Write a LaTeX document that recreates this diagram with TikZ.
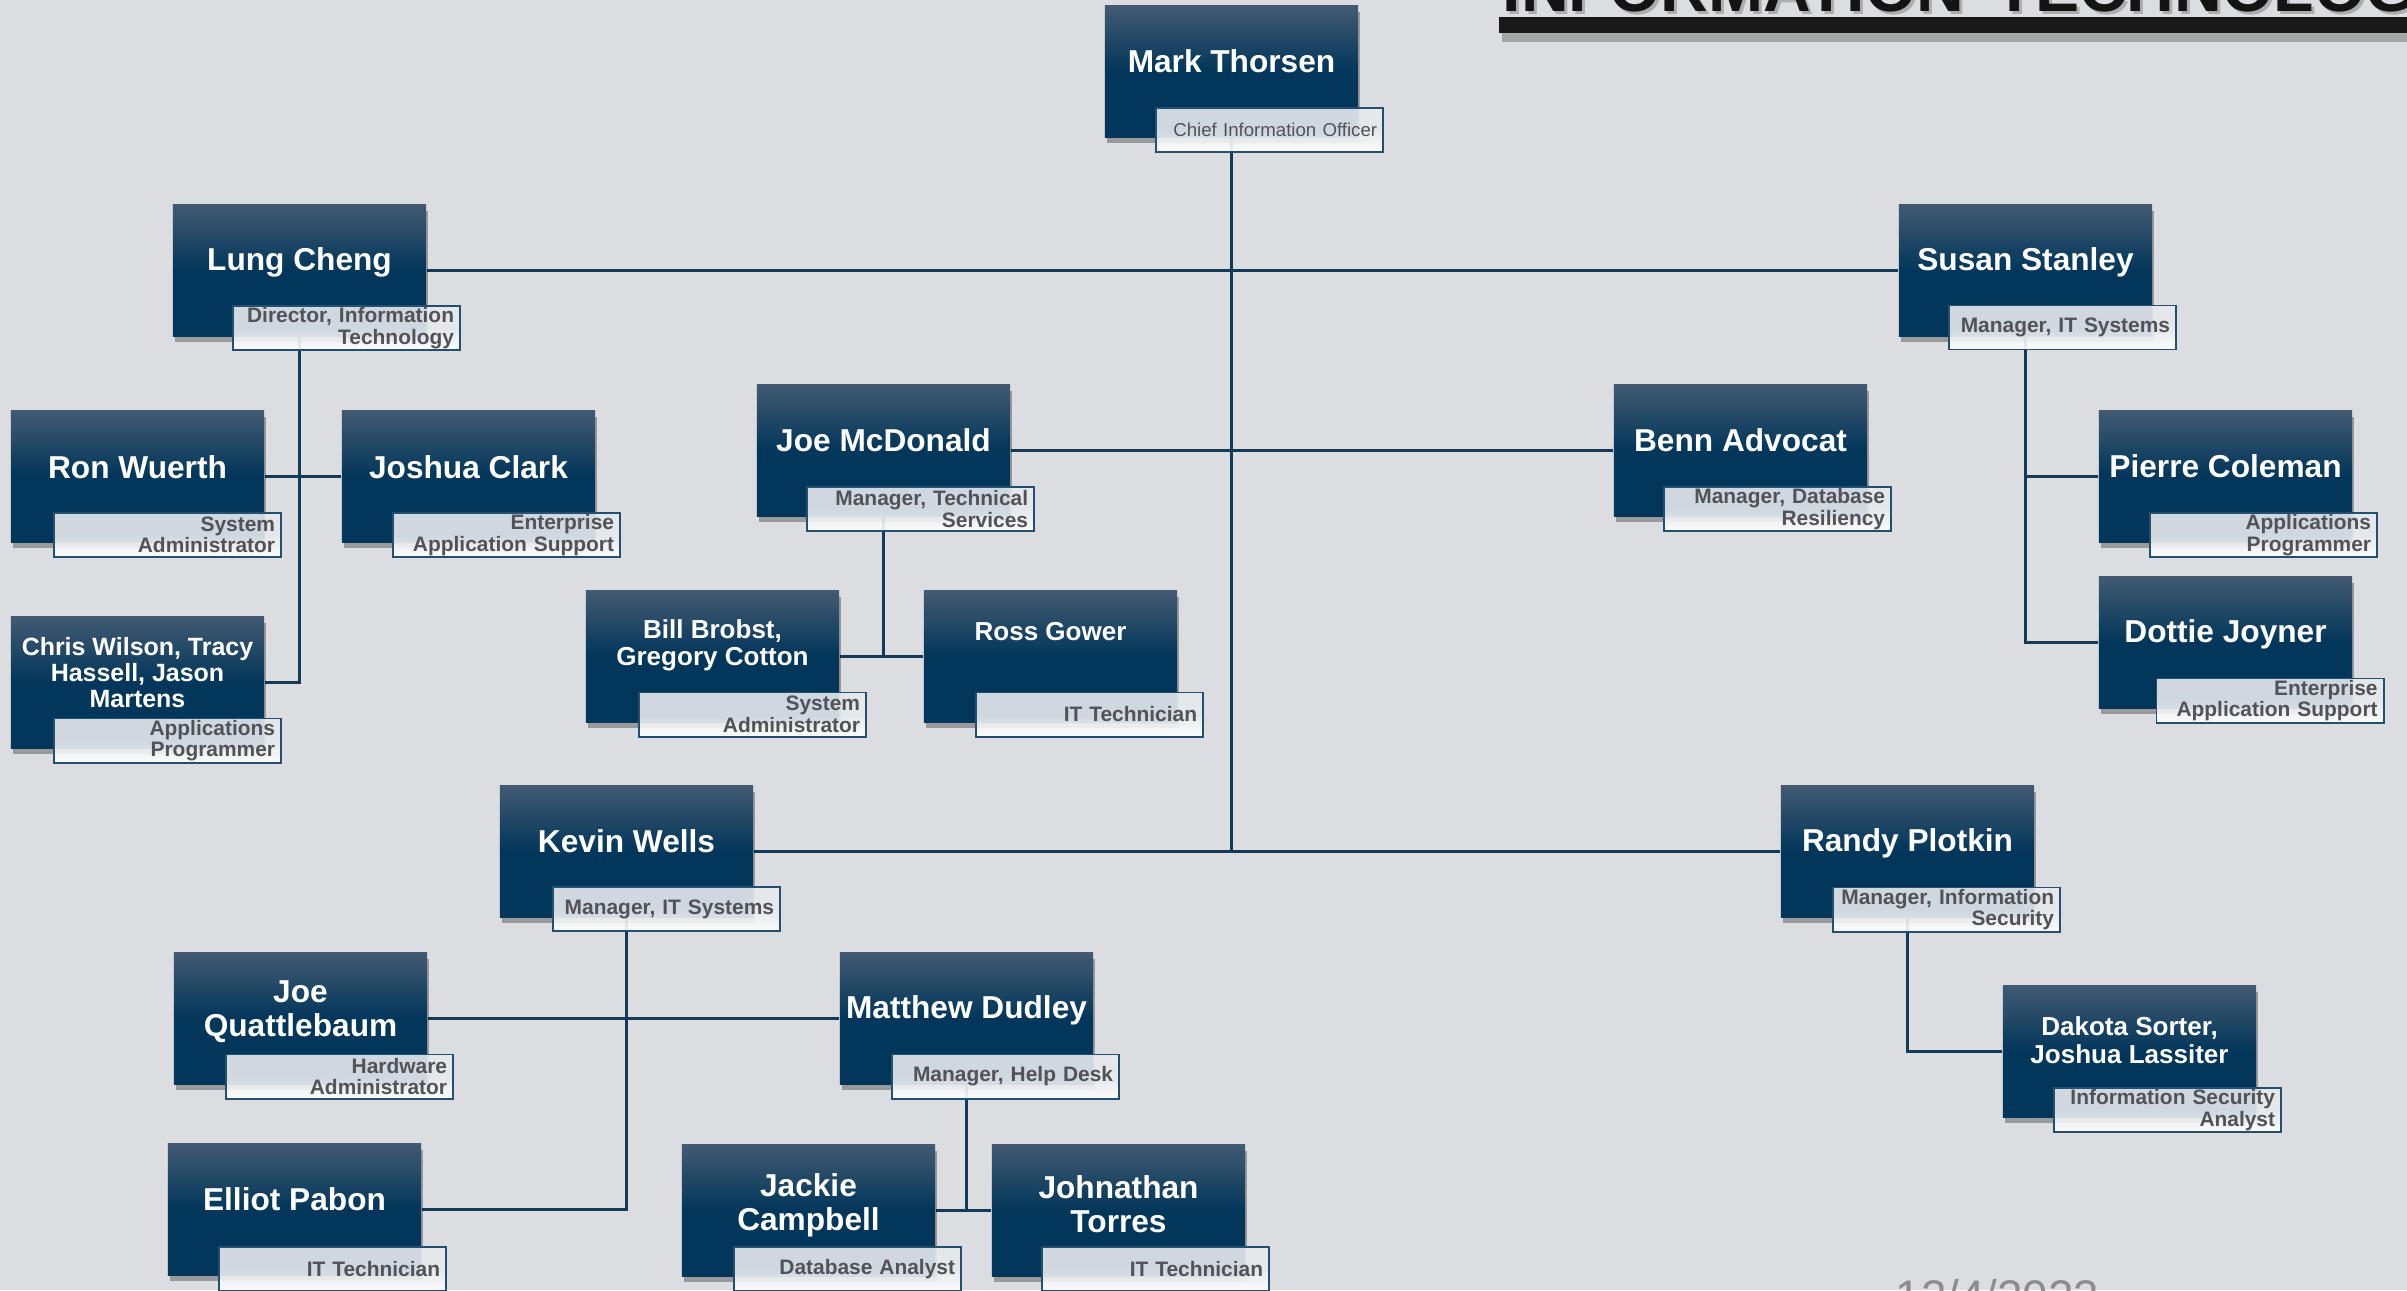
\documentclass[tikz,border=0pt]{standalone}
\usepackage{fontspec}
\setmainfont{Liberation Sans}
\usetikzlibrary{shadows,calc}
\definecolor{bgc}{RGB}{220,221,224}
\definecolor{bxT}{RGB}{66,90,114}
\definecolor{bxB}{RGB}{2,54,90}
\definecolor{lnc}{RGB}{18,58,88}
\definecolor{lbA}{RGB}{230,234,237}
\definecolor{lbD}{RGB}{35,80,112}
\definecolor{lbT}{RGB}{82,82,88}
\definecolor{datec}{RGB}{140,140,140}
\pgfdeclarelayer{bg}
\pgfsetlayers{bg,main}
\begin{document}
\begin{tikzpicture}[x={(0.01cm,0)}, y={(0,-0.01cm)},
  pbox/.style={rectangle, minimum width=2.53cm, minimum height=1.31cm, inner sep=0pt,
    top color=bxT, bottom color=bxB, middle color=bxB,
    drop shadow={shadow xshift=0.6pt, shadow yshift=-1.6pt, opacity=0.3, fill=black}},
  nm/.style={text=white, font=\bfseries\fontsize{9}{9.7}\selectfont, align=center, inner sep=0pt},
  nms/.style={text=white, font=\bfseries\fontsize{7.4}{7.9}\selectfont, align=center, inner sep=0pt},
  nmx/.style={text=white, font=\bfseries\fontsize{7.1}{7.4}\selectfont, align=center, inner sep=0pt},
  lb/.style={rectangle, minimum width=2.27cm, minimum height=0.44cm, text width=2.15cm,
    inner xsep=0.06cm, inner ysep=0pt, align=right, draw=lbD, line width=0.55pt,
    top color=lbA, bottom color=white, middle color=lbA, fill opacity=0.9, text opacity=1,
    text=lbT, font=\bfseries\fontsize{5.95}{6.1}\selectfont},
  lbr/.style={lb, font=\fontsize{5.3}{5.6}\selectfont},
  conn/.style={draw=lnc, line width=0.03cm},
  ttl/.style={anchor=base west, inner sep=0pt, font=\bfseries\fontsize{18.8}{19}\selectfont}
]
\begin{pgfonlayer}{bg}
\fill[bgc] (0,0) rectangle (2407,1290);
\end{pgfonlayer}
\useasboundingbox (0,0) rectangle (2407,1290);
\clip (0,0) rectangle (2407,1290);

% title (cut off at the top) and date (cut off at the bottom)
\fill[black, opacity=0.25] (1502,22) rectangle (2407,42);
\fill[black!90] (1499,17) rectangle (2407,33);
\node[ttl, text=black!45, opacity=0.6] (titleS) at (1505,14) {INFORMATION\hspace{0.12cm} TECHNOLOGY};
\node[ttl, text=black!92] (title) at (1502,11) {INFORMATION\hspace{0.12cm} TECHNOLOGY};
\node[anchor=base west, inner sep=0pt, text=datec, font=\fontsize{13}{13}\selectfont] (date) at (1895,1312) {12/4/2023};

% ---------- boxes ----------
\node[pbox] (mark) at (1231.5,71.5) {};
\node[nm] (markN) at ($(mark.north)+(0,56)$) {Mark Thorsen};
\node[lbr] (markL) at (1269.5,130) {Chief Information Officer};

\node[pbox] (lung) at (299.5,270.5) {};
\node[nm] (lungN) at ($(lung.north)+(0,58)$) {Lung Cheng};
\node[lb] (lungL) at (346.5,328) {Director, Information\\Technology};

\node[pbox] (susan) at (2025.5,270.5) {};
\node[nm] (susanN) at ($(susan.north)+(0,58)$) {Susan Stanley};
\node[lb] (susanL) at (2062.5,327.5) {Manager, IT Systems};

\node[pbox] (ron) at (137.5,476.5) {};
\node[nm] (ronN) at ($(ron.north)+(0,57)$) {Ron Wuerth};
\node[lb] (ronL) at (167.5,535) {System\\Administrator};

\node[pbox] (jclark) at (468.5,476.5) {};
\node[nm] (jclarkN) at ($(jclark.north)+(0,57)$) {Joshua Clark};
\node[lb] (jclarkL) at (506.5,535) {Enterprise\\Application Support};

\node[pbox] (chris) at (137.5,682.5) {};
\node[nmx] (chrisN) at ($(chris.north)+(0,56)$) {Chris Wilson, Tracy\\Hassell, Jason\\Martens};
\node[lb] (chrisL) at (167.5,740.5) {Applications\\Programmer};

\node[pbox] (mcd) at (883.5,450.5) {};
\node[nm] (mcdN) at ($(mcd.north)+(0,56)$) {Joe McDonald};
\node[lb] (mcdL) at (920.5,509) {Manager, Technical\\Services};

\node[pbox] (benn) at (1740.5,450.5) {};
\node[nm] (bennN) at ($(benn.north)+(0,56)$) {Benn Advocat};
\node[lb] (bennL) at (1777.5,509) {Manager, Database\\Resiliency};

\node[pbox] (pierre) at (2225.5,476.5) {};
\node[nm] (pierreN) at ($(pierre.north)+(0,56)$) {Pierre Coleman};
\node[lb] (pierreL) at (2263.5,535) {Applications\\Programmer};

\node[pbox] (dottie) at (2225.5,642.5) {};
\node[nm] (dottieN) at ($(dottie.north)+(0,58)$) {Dottie Joyner};
\node[lb] (dottieL) at (2270,700.5) {Enterprise\\Application Support};

\node[pbox] (bill) at (712.5,656.5) {};
\node[nms] (billN) at ($(bill.north)+(0,55)$) {Bill Brobst,\\Gregory Cotton};
\node[lb] (billL) at (752.5,714.5) {System\\Administrator};

\node[pbox] (ross) at (1050.5,656.5) {};
\node[nms] (rossN) at ($(ross.north)+(0,41)$) {Ross Gower};
\node[lb] (rossL) at (1089.5,714.5) {IT Technician};

\node[pbox] (kevin) at (626.5,851.5) {};
\node[nm] (kevinN) at ($(kevin.north)+(0,56)$) {Kevin Wells};
\node[lb] (kevinL) at (666.5,909) {Manager, IT Systems};

\node[pbox] (randy) at (1907.5,851.5) {};
\node[nm] (randyN) at ($(randy.north)+(0,58)$) {Randy Plotkin};
\node[lb] (randyL) at (1946.5,909.5) {Manager, Information\\Security};

\node[pbox] (joeq) at (300.5,1018.5) {};
\node[nm] (joeqN) at ($(joeq.north)+(0,59)$) {Joe\\Quattlebaum};
\node[lb] (joeqL) at (339.5,1076.5) {Hardware\\Administrator};

\node[pbox] (matt) at (966.5,1018.5) {};
\node[nm] (mattN) at ($(matt.north)+(0,58)$) {Matthew Dudley};
\node[lb] (mattL) at (1005.5,1076.5) {Manager, Help Desk};

\node[pbox] (dakota) at (2129.5,1051.5) {};
\node[nms] (dakotaN) at ($(dakota.north)+(0,55)$) {Dakota Sorter,\\Joshua Lassiter};
\node[lb] (dakotaL) at (2167.5,1110) {Information Security\\Analyst};

\node[pbox] (elliot) at (294.5,1209.5) {};
\node[nm] (elliotN) at ($(elliot.north)+(0,56)$) {Elliot Pabon};
\node[lb] (elliotL) at (332.5,1269) {IT Technician};

\node[pbox] (jackie) at (808.5,1210.5) {};
\node[nm] (jackieN) at ($(jackie.north)+(0,61)$) {Jackie\\Campbell};
\node[lb] (jackieL) at (847.5,1269) {Database Analyst};

\node[pbox] (john) at (1118.5,1210.5) {};
\node[nm] (johnN) at ($(john.north)+(0,60)$) {Johnathan\\Torres};
\node[lb] (johnL) at (1155.5,1269) {IT Technician};

% ---------- connectors ----------
\begin{pgfonlayer}{bg}
\draw[conn] (mark.south) -- (mark.south |- kevin.east);
\draw[conn] (lung.east) -- (susan.west);
\draw[conn] (mcd.east) -- (benn.west);
\draw[conn] (kevin.east) -- (randy.west);

\draw[conn] (lung.south) -- (lung.south |- chris.east) -- (chris.east);
\draw[conn] (ron.east) -- (jclark.west);

\draw[conn] (susan.south) -- (susan.south |- dottie.west) -- (dottie.west);
\draw[conn] (pierre.west) -- (pierre.west -| susan.south);

\draw[conn] (mcd.south) -- (mcd.south |- bill.east);
\draw[conn] (bill.east) -- (ross.west);

\draw[conn] (kevin.south) -- (kevin.south |- elliot.east) -- (elliot.east);
\draw[conn] (joeq.east) -- (matt.west);

\draw[conn] (matt.south) -- (matt.south |- jackie.east);
\draw[conn] (jackie.east) -- (john.west);

\draw[conn] (randy.south) -- (randy.south |- dakota.west) -- (dakota.west);
\end{pgfonlayer}
\end{tikzpicture}
\end{document}
